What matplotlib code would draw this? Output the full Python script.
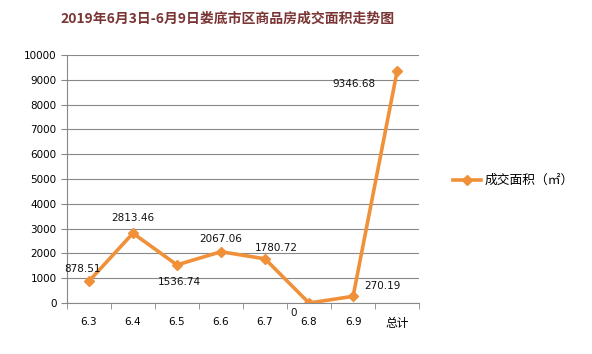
import matplotlib
matplotlib.use('Agg')
import matplotlib.pyplot as plt

# digits in DejaVu, CJK falls back to Noto
plt.rcParams['font.family'] = ['DejaVu Sans', 'Noto Sans CJK SC']

categories = ['6.3', '6.4', '6.5', '6.6', '6.7', '6.8', '6.9', '总计']
area = [878.51, 2813.46, 1536.74, 2067.06, 1780.72, 0, 270.19, 9346.68]
labels = ['878.51', '2813.46', '1536.74', '2067.06', '1780.72', '0', '270.19', '9346.68']
# label offsets in points (dx, dy)
offsets = [(-4.7, 8.6), (0, 10.8), (1.4, -12.2), (0, 9.4), (7.9, 7.9), (-10.8, -7.2), (20.9, 7.2), (-31, -9.4)]

fig = plt.figure(figsize=(5.92, 3.54), dpi=100)
ax = fig.add_axes([0.113, 0.144, 0.595, 0.701])

x = list(range(len(categories)))
ax.plot(x, area, color='#F0913A', linewidth=2.6, marker='D', markersize=5,
        label='成交面积（㎡）')

for i, (v, s) in enumerate(zip(area, labels)):
    ax.annotate(s, (i, v), xytext=offsets[i], textcoords='offset points',
                ha='center', va='center', fontsize=7.5, color='#111111')

ax.set_xlim(-0.5, len(categories) - 0.5)
ax.set_ylim(0, 10000)
ax.set_yticks(range(0, 10001, 1000))
ax.set_xticks(x)
ax.set_xticklabels(categories)
ax.get_xticklabels()[-1].set_fontsize(8.5)
ax.set_xticks([i + 0.5 for i in range(-1, len(categories))], minor=True)
ax.tick_params(axis='x', which='major', length=0, pad=10, labelsize=7.5)
ax.tick_params(axis='x', which='minor', length=4, color='#888888')
ax.tick_params(axis='y', length=4, color='#888888', labelsize=7.5)
ax.get_xticklabels()[-1].set_fontsize(8.5)

ax.grid(axis='y', color='#888888', linewidth=0.8)
ax.set_axisbelow(True)
for side in ['top', 'right']:
    ax.spines[side].set_visible(False)
ax.spines['left'].set_color('#888888')
ax.spines['bottom'].set_color('#888888')

fig.legend(loc='center left', bbox_to_anchor=(0.745, 0.49), frameon=False,
           handlelength=2.2, handletextpad=0.3,
           prop={'family': ['Noto Sans CJK SC', 'DejaVu Sans'], 'size': 9.2})

fig.text(0.385, 0.948, '2019年6月3日-6月9日娄底市区商品房成交面积走势图', ha='center', va='center',
         fontsize=10, fontweight='bold', color='#7B3535',
         family=['Noto Sans CJK SC', 'DejaVu Sans'])

fig.savefig('out.png', dpi=100)
